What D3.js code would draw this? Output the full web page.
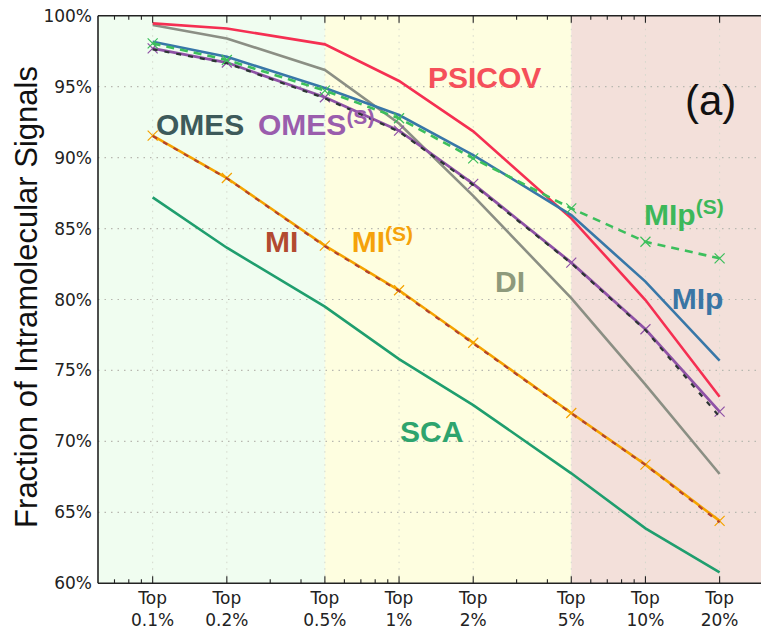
<!DOCTYPE html>
<html>
<head>
<meta charset="utf-8">
<script src="https://cdn.jsdelivr.net/npm/d3@7"></script>
<style>
  body { margin: 0; background: #fff; }
  .tick-label { font-family: "DejaVu Sans", sans-serif; font-size: 17px; fill: #222; }
  .method { font-family: "Liberation Sans", Arial, sans-serif; font-weight: bold; font-size: 30px; }
</style>
</head>
<body>
<svg id="chart" width="761" height="631"></svg>
<script>
// fraction of top-ranked pairs (in %)
let topPct = [0.1, 0.2, 0.5, 1, 2, 5, 10, 20];
let topLabels = ["0.1%", "0.2%", "0.5%", "1%", "2%", "5%", "10%", "20%"];
let yTicks = [60, 65, 70, 75, 80, 85, 90, 95, 100];

let psicov = [99.46, 99.1, 97.98, 95.4, 91.85, 85.72, 79.96, 73.15];
let di     = [99.35, 98.4, 96.17, 92.4, 87.3, 80.1, 74.0, 67.7];
let mip    = [98.17, 97.11, 94.9, 93.0, 90.18, 85.95, 81.26, 75.69];
let mipS   = [98.05, 96.88, 94.72, 92.77, 89.95, 86.42, 84.07, 82.9];
let omes   = [97.63, 96.65, 94.18, 91.83, 88.07, 82.55, 77.85, 71.74];
let omesS  = [97.7, 96.7, 94.25, 91.9, 88.15, 82.6, 77.9, 72.1];
let mi     = [91.52, 88.54, 83.75, 80.6, 76.9, 71.98, 68.34, 64.3];
let miS    = [91.55, 88.56, 83.8, 80.65, 76.95, 72.0, 68.36, 64.4];
let sca    = [87.2, 83.65, 79.5, 75.8, 72.56, 67.75, 63.87, 60.77];

let svg = d3.select("#chart");

let x = d3.scaleLog()
    .domain([0.06, 30])
    .range([98, 763]);

let y = d3.scaleLinear()
    .domain([60, 100])
    .range([583.3, 15.7]);

// background bands
let bands = [
    {from: 0.06, to: 0.5, color: "#f0fdf0"},
    {from: 0.5, to: 5, color: "#fefee0"},
    {from: 5, to: 30, color: "#f3e0da"}
];
svg.selectAll(".band")
    .data(bands)
  .enter().append("rect")
    .attr("class", "band")
    .attr("x", d => x(d.from))
    .attr("width", d => x(d.to) - x(d.from))
    .attr("y", y(100))
    .attr("height", y(60) - y(100))
    .attr("fill", d => d.color);

// grid
svg.append("g")
    .selectAll("line")
    .data(yTicks.slice(1, -1))
  .enter().append("line")
    .attr("x1", x(0.06))
    .attr("x2", 761)
    .attr("y1", d => y(d))
    .attr("y2", d => y(d))
    .attr("stroke", "#b8b8b0")
    .attr("stroke-width", 1.2)
    .attr("stroke-dasharray", "1.5,5");

svg.append("g")
    .selectAll("line")
    .data(topPct)
  .enter().append("line")
    .attr("x1", d => x(d))
    .attr("x2", d => x(d))
    .attr("y1", y(100))
    .attr("y2", y(60))
    .attr("stroke", "#d4d8cc")
    .attr("stroke-width", 1)
    .attr("stroke-dasharray", "1.5,5");

// series
let line = d3.line()
    .x((d, i) => x(topPct[i]))
    .y(d => y(d));

let series = [
    {vals: sca,    color: "#1f9e6e"},
    {vals: miS,    color: "#f5a300", marks: true},
    {vals: mi,     color: "#b4432c", dash: "5,7", w: 2.2},
    {vals: di,     color: "#8b8f84"},
    {vals: omesS,  color: "#8f52a6", marks: true, w: 2.8},
    {vals: omes,   color: "#2c3434", dash: "5,7", w: 2.2},
    {vals: psicov, color: "#f52f52"},
    {vals: mip,    color: "#3877a8"},
    {vals: mipS,   color: "#3cbf5c", dash: "8,6", marks: true}
];

series.forEach(s => {
    svg.append("path")
        .datum(s.vals)
        .attr("d", line)
        .attr("fill", "none")
        .attr("stroke", s.color)
        .attr("stroke-width", s.w || 2.6)
        .attr("stroke-dasharray", s.dash || null);
    if (s.marks) {
        svg.selectAll(null)
            .data(s.vals)
          .enter().append("path")
            .attr("d", "M-5,-5L5,5M-5,5L5,-5")
            .attr("transform", (d, i) => "translate(" + x(topPct[i]) + "," + y(d) + ")")
            .attr("stroke", s.color)
            .attr("stroke-width", 1.2)
            .attr("fill", "none");
    }
});

// frame
let frame = svg.append("g").attr("stroke", "#222").attr("stroke-width", 1.6).attr("fill", "none");
frame.append("line").attr("x1", x(0.06)).attr("x2", 761).attr("y1", y(100)).attr("y2", y(100));
frame.append("line").attr("x1", x(0.06)).attr("x2", 761).attr("y1", y(60)).attr("y2", y(60));
frame.append("line").attr("x1", x(0.06)).attr("x2", x(0.06)).attr("y1", y(100)).attr("y2", y(60));

// ticks on top and bottom (inward)
let minor = [0.07, 0.08, 0.09, 0.3, 0.4, 0.6, 0.7, 0.8, 0.9, 3, 4, 6, 7, 8, 9];
let tickG = svg.append("g").attr("stroke", "#222").attr("stroke-width", 1.1);
[y(60), y(100)].forEach((yy, k) => {
    let dir = k === 0 ? -1 : 1;
    tickG.selectAll(null).data(topPct).enter().append("line")
        .attr("x1", d => x(d)).attr("x2", d => x(d))
        .attr("y1", yy).attr("y2", yy + dir * 7);
    tickG.selectAll(null).data(minor).enter().append("line")
        .attr("x1", d => x(d)).attr("x2", d => x(d))
        .attr("y1", yy).attr("y2", yy + dir * 4);
});

// tick labels
svg.selectAll(".ylab")
    .data(yTicks)
  .enter().append("text")
    .attr("class", "tick-label ylab")
    .attr("x", 92)
    .attr("y", d => y(d) + 6)
    .attr("text-anchor", "end")
    .text(d => d + "%");

let xl = svg.selectAll(".xlab")
    .data(topLabels)
  .enter().append("text")
    .attr("class", "tick-label xlab")
    .attr("text-anchor", "middle");
xl.append("tspan")
    .attr("x", (d, i) => x(topPct[i]))
    .attr("y", 604)
    .text("Top");
xl.append("tspan")
    .attr("x", (d, i) => x(topPct[i]))
    .attr("y", 626)
    .text(d => d);

svg.append("text")
    .attr("transform", "translate(37," + 297 + ") rotate(-90)")
    .attr("text-anchor", "middle")
    .attr("font-family", "Liberation Sans, Arial, sans-serif")
    .attr("font-size", 31)
    .attr("fill", "#111")
    .text("Fraction of Intramolecular Signals");

// method labels
function label(px, val, txt, color, sup) {
    let t = svg.append("text")
        .attr("class", "method")
        .attr("x", x(px))
        .attr("y", y(val))
        .attr("fill", color)
        .text(txt);
    if (sup) {
        t.append("tspan")
            .attr("font-size", 21)
            .attr("dy", -11)
            .text("(S)");
    }
}
label(1.31, 94.9, "PSICOV", "#f5505a");
label(0.1032, 91.56, "OMES", "#3d5a5a");
label(0.2677, 91.56, "OMES", "#9a5dad", true);
label(0.2858, 83.35, "MI", "#b24a30");
label(0.6423, 83.35, "MI", "#f5a20a", true);
label(2.452, 80.53, "DI", "#8e9a7c");
label(9.865, 85.25, "MIp", "#3cb85a", true);
label(12.78, 79.33, "MIp", "#3a76a5");
label(1.009, 69.98, "SCA", "#2ea46e");

svg.append("text")
    .attr("x", x(14.47))
    .attr("y", y(93.0))
    .attr("font-family", "Liberation Sans, Arial, sans-serif")
    .attr("font-size", 42)
    .attr("fill", "#111")
    .text("(a)");
</script>
</body>
</html>
